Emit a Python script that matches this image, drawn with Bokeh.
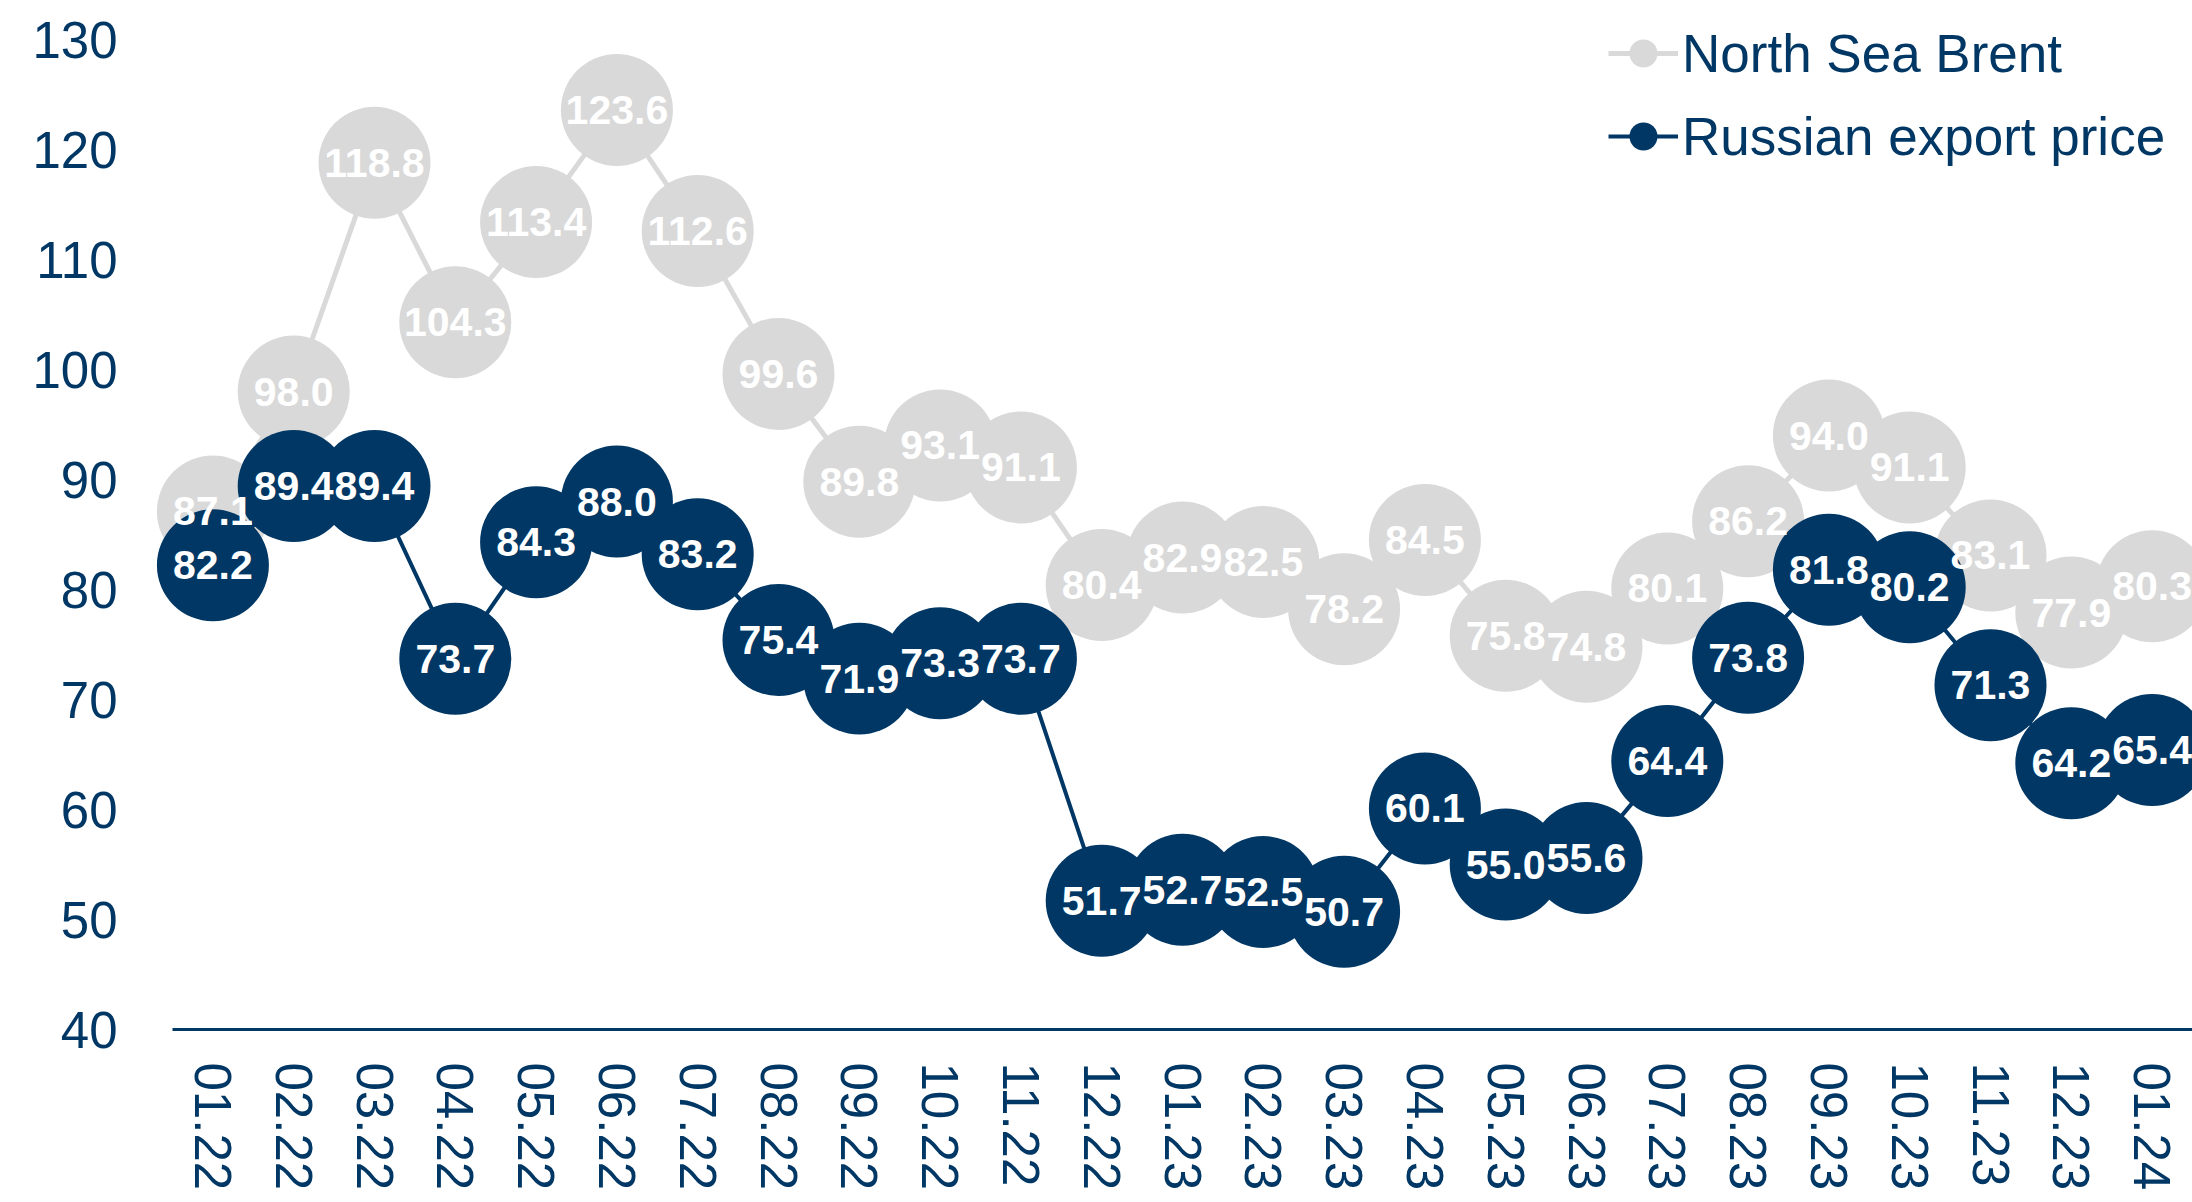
from bokeh.plotting import figure
from bokeh.models import ColumnDataSource, Range1d, Legend, LegendItem, FixedTicker
from bokeh.core.properties import value
from bokeh.embed import file_html
from bokeh.resources import INLINE

months = ["01.22", "02.22", "03.22", "04.22", "05.22", "06.22", "07.22", "08.22",
          "09.22", "10.22", "11.22", "12.22", "01.23", "02.23", "03.23", "04.23",
          "05.23", "06.23", "07.23", "08.23", "09.23", "10.23", "11.23", "12.23", "01.24"]
brent = [87.1, 98.0, 118.8, 104.3, 113.4, 123.6, 112.6, 99.6, 89.8, 93.1, 91.1, 80.4,
         82.9, 82.5, 78.2, 84.5, 75.8, 74.8, 80.1, 86.2, 94.0, 91.1, 83.1, 77.9, 80.3]
russian = [82.2, 89.4, 89.4, 73.7, 84.3, 88.0, 83.2, 75.4, 71.9, 73.3, 73.7, 51.7,
           52.7, 52.5, 50.7, 60.1, 55.0, 55.6, 64.4, 73.8, 81.8, 80.2, 71.3, 64.2, 65.4]
y_ticks = [40, 50, 60, 70, 80, 90, 100, 110, 120, 130]

NAVY = "#003764"
GRAY = "#D9D9D9"
FONT = "Liberation Sans"

idx = list(range(len(months)))
src = ColumnDataSource(dict(
    x=idx, brent=brent, russian=russian,
    bl=[f"{v:.1f}" for v in brent], rl=[f"{v:.1f}" for v in russian],
))

STEP = 80.8          # pixels per category
LEFT_EXTRA = 22      # frame room left of the axis start, so first markers are not clipped

p = figure(
    x_range=Range1d(-0.5 - LEFT_EXTRA / STEP, len(months) - 0.5),
    y_range=Range1d(40, 130 + 39 / 11),
    width=2192, height=1194,
    min_border_left=150, min_border_right=0, min_border_top=0, min_border_bottom=165,
    output_backend="svg", toolbar_location=None,
)
p.outline_line_color = None
p.grid.grid_line_color = None
p.background_fill_color = "white"

# y axis
p.yaxis.ticker = y_ticks
p.yaxis.axis_line_color = None
p.yaxis.major_tick_line_color = None
p.yaxis.minor_tick_line_color = None
p.yaxis.major_label_standoff = 27
p.yaxis.major_label_text_font = FONT
p.yaxis.major_label_text_font_size = "51px"
p.yaxis.major_label_text_color = NAVY

# x axis
xa = p.xaxis[0]
xa.ticker = FixedTicker(ticks=idx)
xa.major_label_overrides = {i: m for i, m in enumerate(months)}
xa.bounds = (-0.5, len(months) - 0.5)
xa.axis_line_color = NAVY
xa.axis_line_width = 3
xa.major_tick_line_color = None
xa.minor_tick_line_color = None
xa.major_label_orientation = "vertical"
xa.major_label_standoff = 27
xa.major_label_text_font = FONT
xa.major_label_text_font_size = "51px"
xa.major_label_text_color = NAVY

# series
bl = p.line("x", "brent", source=src, line_color=GRAY, line_width=5)
bc = p.scatter("x", "brent", source=src, size=112, fill_color=GRAY, line_color=None)
rl = p.line("x", "russian", source=src, line_color=NAVY, line_width=4)
rc = p.scatter("x", "russian", source=src, size=112, fill_color=NAVY, line_color=None)

# labels
for col, ycol in (("bl", "brent"), ("rl", "russian")):
    p.text("x", ycol, text=col, source=src, text_color="white",
           text_font=value(FONT), text_font_style="bold", text_font_size="41px",
           text_align="center", text_baseline="middle")

legend = Legend(
    items=[LegendItem(label="North Sea Brent", renderers=[bl, bc]),
           LegendItem(label="Russian export price", renderers=[rl, rc])],
    location=(1458, 853),
    padding=0, margin=0, spacing=3,
    glyph_width=70, glyph_height=80, label_height=80,
    label_standoff=4,
    label_text_font=FONT, label_text_font_size="53px", label_text_color=NAVY,
    border_line_color=None, background_fill_alpha=0,
)
p.add_layout(legend, "center")

open("out.html", "w").write(file_html(p, INLINE))
